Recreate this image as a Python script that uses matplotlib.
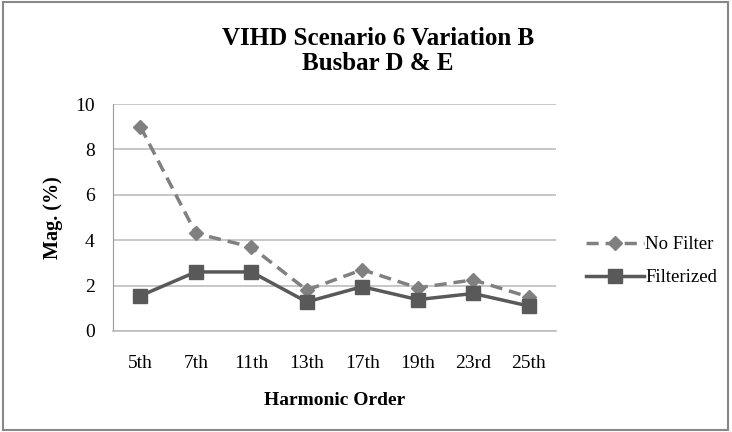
import matplotlib
matplotlib.use("Agg")
import matplotlib.pyplot as plt
from matplotlib.patches import Rectangle

categories = ["5th", "7th", "11th", "13th", "17th", "19th", "23rd", "25th"]
no_filter = [9.0, 4.3, 3.7, 1.8, 2.7, 1.9, 2.25, 1.5]
filterized = [1.55, 2.6, 2.6, 1.28, 1.95, 1.38, 1.65, 1.1]
yticks = [0, 2, 4, 6, 8, 10]

plt.rcParams['font.family'] = ['Liberation Serif', 'DejaVu Serif']

fig = plt.figure(figsize=(7.32, 4.32), dpi=100)
fig.patches.append(Rectangle((0.004, 0.005), 0.991, 0.99, transform=fig.transFigure,
                             fill=False, edgecolor='#888888', linewidth=1.5))
ax = fig.add_axes([0.154, 0.234, 0.606, 0.525])
x = list(range(len(categories)))
ax.plot(x, no_filter, color='#808080', linestyle=(0, (3.5, 2)), linewidth=2.5,
        marker='D', markersize=7, label='No Filter')
ax.plot(x, filterized, color='#595959', linestyle='-', linewidth=2.5,
        marker='s', markersize=10, label='Filterized')
ax.set_xlim(-0.5, 7.5)
ax.set_ylim(0, 10)
ax.set_yticks(yticks)
ax.set_xticks(x)
ax.set_xticklabels(categories)
ax.grid(axis='y', color='#BDBDBD', linewidth=1.2)
ax.set_axisbelow(True)
for s in ['top', 'right']:
    ax.spines[s].set_visible(False)
ax.spines['left'].set_color('#999999')
ax.spines['bottom'].set_color('#BDBDBD')
ax.spines['bottom'].set_linewidth(1.2)
ax.tick_params(length=0, labelsize=14)
ax.tick_params(axis='y', pad=13)
ax.tick_params(axis='x', pad=17)
ax.set_ylabel('Mag. (%)', fontsize=14.5, fontweight='bold', labelpad=9)
ax.set_xlabel('Harmonic Order', fontsize=14, fontweight='bold', labelpad=15)
fig.text(0.516, 0.911, 'VIHD Scenario 6 Variation B', ha='center', va='center',
         fontsize=18, fontweight='bold')
fig.text(0.516, 0.853, 'Busbar D & E', ha='center', va='center',
         fontsize=18, fontweight='bold')
fig.legend(loc='center left', bbox_to_anchor=(0.778, 0.395), frameon=False,
           fontsize=13.5, handlelength=3.1, labelspacing=0.85, handletextpad=0.05)
fig.savefig('out.png', dpi=100)
